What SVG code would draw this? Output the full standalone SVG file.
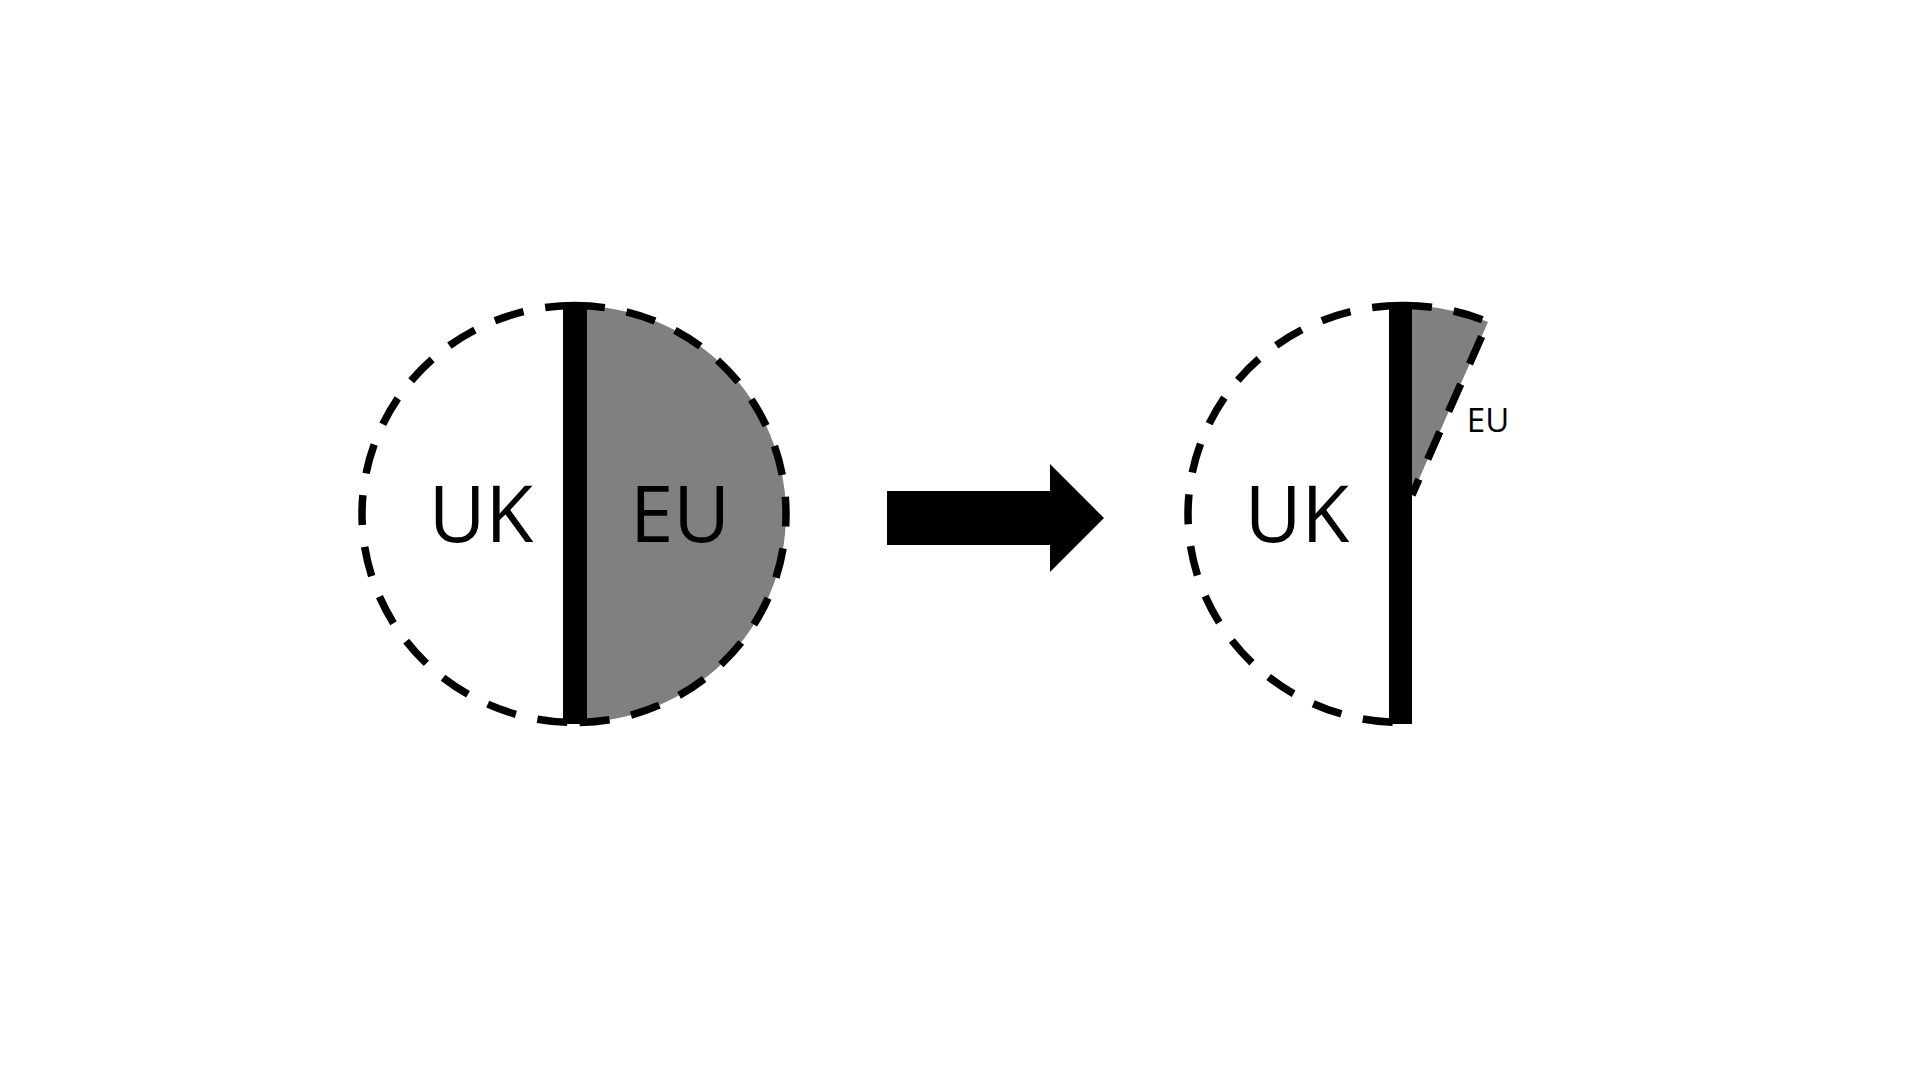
<svg xmlns="http://www.w3.org/2000/svg" width="1920" height="1080" viewBox="0 0 1920 1080">
<style>
.dash{fill:none;stroke:#000;stroke-width:7.5;stroke-dasharray:30 22}
.gray{fill:#808080}
.big{font-family:"Open Sans","Noto Sans",sans-serif;font-size:78px;fill:#000;text-anchor:middle}
.small{font-family:"Open Sans","Noto Sans",sans-serif;font-size:33px;fill:#000;text-anchor:middle}
</style>
<rect width="1920" height="1080" fill="#fff"/>
<g id="before">
  <path class="gray" d="M575 305.5 A211 208.5 0 0 1 786 514 A211 208.5 0 0 1 575 722.5 Z"/>
  <path class="dash" d="M575 305.5 A213 208.5 0 0 0 362 514 A213 208.5 0 0 0 575 722.5"/>
  <path class="dash" d="M575 305.5 A211 208.5 0 0 1 786 514 A211 208.5 0 0 1 575 722.5"/>
  <rect x="563" y="306" width="24" height="418" fill="#000"/>
  <text class="big" x="481" y="542">UK</text>
  <text class="big" x="680" y="542">EU</text>
</g>
<g id="connectors">
  <polygon points="887,491 1050,491 1050,464 1104,518 1050,572 1050,545 887,545" fill="#000"/>
</g>
<g id="after">
  <path class="gray" d="M1402 305.5 A213 208.5 0 0 1 1488 322 L1412 495 L1402 495 Z"/>
  <path class="dash" d="M1402 305.5 A214 208.5 0 0 0 1188 514 A214 208.5 0 0 0 1402 722.5"/>
  <path class="dash" d="M1402 305.5 A213 208.5 0 0 1 1488 322 L1412 495"/>
  <rect x="1389" y="306" width="23" height="418" fill="#000"/>
  <text class="big" x="1297" y="542">UK</text>
  <text class="small" x="1488" y="432">EU</text>
</g>
</svg>
